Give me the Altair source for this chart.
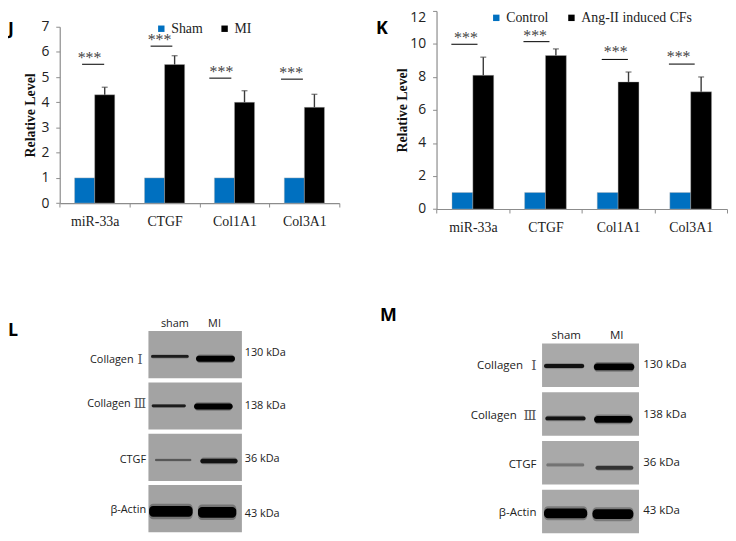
import altair as alt
import pandas as pd

categories = ["miR-33a", "CTGF", "Col1A1", "Col3A1"]

j_groups = ["Sham", "MI"]
j_sham = [1, 1, 1, 1]
j_mi = [4.3, 5.5, 4.0, 3.8]
j_top = [4.6, 5.85, 4.46, 4.32]
j_line_from = [0.32, 1.30, 2.14, 3.166]
j_line_to = [0.636, 1.611, 2.455, 3.479]
j_line_y = [5.51, 6.23, 4.96, 4.92]
j_star_x = [0.427, 1.428, 2.314, 3.312]
j_star_y = [5.74, 6.46, 5.22, 5.17]

k_groups = ["Control", "Ang-II induced CFs"]
k_ctrl = [1, 1, 1, 1]
k_ang = [8.1, 9.3, 7.7, 7.1]
k_top = [9.2, 9.7, 8.3, 8.0]
k_line_from = [0.204, 1.197, 2.275, 3.20]
k_line_to = [0.564, 1.555, 2.635, 3.555]
k_line_y = [9.98, 10.14, 9.06, 8.78]
k_star_x = [0.405, 1.358, 2.467, 3.334]
k_star_y = [10.36, 10.48, 9.52, 9.2]

blot_rows = [0, 1, 2, 3]
kda = ["130 kDa", "138 kDa", "36 kDa", "43 kDa"]
lanes = ["sham", "MI"]
numerals = ["Ⅰ", "Ⅲ"]

l_names = ["Collagen", "Collagen", "CTGF", "β-Actin"]
l_name_x = [-0.159, -0.19, -0.025, -0.025]
l_name_y = [0.56, 1.43, 2.51, 3.48]
l_num_x = [-0.063, -0.024]
l_num_y = [0.56, 1.43]
l_kda_x = [1.03, 1.03, 1.03, 1.03]
l_kda_y = [0.43, 1.46, 2.49, 3.56]
l_lane_x = [0.283, 0.707]
l_lane_y = [-0.142, -0.142]
l_band_from = [0.028, 0.509, 0.035, 0.488, 0.07, 0.555, 0.007, 0.53]
l_band_to = [0.431, 0.926, 0.40, 0.901, 0.459, 0.954, 0.473, 0.94]
l_band_mid = [0.494, 0.539, 1.457, 1.47, 2.51, 2.53, 3.513, 3.53]
l_band_thick = [0.055, 0.115, 0.05, 0.115, 0.04, 0.09, 0.21, 0.21]
l_band_dark = [0.85, 1.0, 0.85, 1.0, 0.45, 0.92, 1.0, 1.0]

m_names = ["Collagen", "Collagen", "CTGF", "β-Actin"]
m_name_x = [-0.197, -0.262, -0.058, -0.058]
m_name_y = [0.455, 1.48, 2.50, 3.48]
m_num_x = [-0.058, -0.058]
m_num_y = [0.455, 1.48]
m_kda_x = [1.043, 1.043, 1.043, 1.043]
m_kda_y = [0.44, 1.47, 2.455, 3.44]
m_lane_x = [0.249, 0.77]
m_lane_y = [-0.15, -0.15]
m_band_from = [0.02, 0.534, 0.034, 0.537, 0.044, 0.551, 0.02, 0.52]
m_band_to = [0.435, 0.952, 0.449, 0.935, 0.435, 0.942, 0.466, 0.942]
m_band_mid = [0.46, 0.48, 1.535, 1.556, 2.489, 2.55, 3.482, 3.5]
m_band_thick = [0.08, 0.14, 0.08, 0.14, 0.06, 0.08, 0.2, 0.2]
m_band_dark = [0.92, 1.0, 0.92, 1.0, 0.3, 0.7, 1.0, 1.0]

SERIF = "Liberation Serif"
SANS = "Open Sans"
AXIS_GRAY = "#8c8c8c"


def bar_panel(groups, low, high, top, xr, yr, ydom, ytick, legend_x, legend_y, col_pad, ytitle_pad, base):
    rows = []
    for i, c in enumerate(categories):
        rows.append({"cat": c, "group": groups[0], "v": low[i]})
        rows.append({"cat": c, "group": groups[1], "v": high[i], "top": top[i]})
    df = pd.DataFrame(rows)
    xs = alt.Scale(domain=categories, range=xr, paddingInner=0, paddingOuter=0)
    ys = alt.Scale(domain=ydom, range=yr, nice=False, zero=True)
    off = alt.Scale(domain=groups, paddingInner=0, paddingOuter=0.74)
    x = alt.X("cat:N", scale=xs, axis=alt.Axis(
        title=None, orient="bottom", offset=-(533 - yr[0]), labelAngle=0, tickBand="extent",
        labelFont=SERIF, labelFontSize=14, labelColor="#222222", labelPadding=8, tickSize=4,
        tickColor=AXIS_GRAY, domainColor=AXIS_GRAY, domainWidth=1.2, ticks=True, grid=False))
    yaxis = alt.Axis(
        title="Relative Level", orient="left", offset=-xr[0], values=ytick, tickSize=4,
        labelFont=SANS, labelFontSize=14, labelColor="#222222", labelPadding=7,
        labelBaseline=base,
        tickColor=AXIS_GRAY, domainColor=AXIS_GRAY, domainWidth=1.2, grid=False,
        titleFont=SERIF, titleFontSize=14, titleFontWeight="bold", titleColor="#111111",
        titlePadding=ytitle_pad)
    y = alt.Y("v:Q", scale=ys, axis=yaxis)
    xo = alt.XOffset("group:N", scale=off, sort=groups)
    bars = alt.Chart(df).mark_bar(stroke="#b5b5b5", strokeWidth=0.4).encode(
        x=x, y=y, xOffset=xo,
        color=alt.Color("group:N", sort=groups, scale=alt.Scale(domain=groups, range=["#0070C0", "#000000"]),
                        legend=alt.Legend(title=None, orient="none", legendX=legend_x, legendY=legend_y,
                                          direction="horizontal", columns=2, symbolType="square", symbolSize=42,
                                          symbolStrokeWidth=0, labelFont=SERIF, labelFontSize=14,
                                          labelColor="#222222", labelOffset=3, columnPadding=col_pad,
                                          padding=0)))
    hi = df[df["top"].notna()]
    err = alt.Chart(hi).mark_rule(color="#3a3a3a", strokeWidth=1.4).encode(
        x=x, xOffset=xo, y=y, y2="top:Q")
    cap = alt.Chart(hi).mark_tick(color="#3a3a3a", size=6, thickness=1.2, orient="horizontal").encode(
        x=x, xOffset=xo, y=alt.Y("top:Q", scale=ys, axis=yaxis))
    return alt.layer(bars, err, cap)


def sig_panel(line_from, line_to, line_y, star_x, star_y, letter, letter_x, letter_y, xr, yr, ydom):
    xs = alt.Scale(domain=[0, 4], range=xr, nice=False, zero=False)
    ys = alt.Scale(domain=ydom, range=yr, nice=False, zero=False)
    d = pd.DataFrame({"a": line_from, "b": line_to, "y": line_y, "sx": star_x, "sy": star_y, "t": ["***"] * 4})
    rule = alt.Chart(d).mark_rule(color="#111111", strokeWidth=1.1).encode(
        x=alt.X("a:Q", scale=xs, axis=None), x2="b:Q", y=alt.Y("y:Q", scale=ys, axis=None))
    star = alt.Chart(d).mark_text(font=SERIF, fontSize=16, color="#444444", baseline="middle", align="center").encode(
        x=alt.X("sx:Q", scale=xs, axis=None), y=alt.Y("sy:Q", scale=ys, axis=None), text="t:N")
    let = alt.Chart(pd.DataFrame({"x": [letter_x], "y": [letter_y], "t": [letter]})).mark_text(
        font=SANS, fontSize=18, fontWeight="bold", color="#000000", align="left", baseline="middle").encode(
        x=alt.X("x:Q", scale=xs, axis=None), y=alt.Y("y:Q", scale=ys, axis=None), text="t:N")
    return alt.layer(rule, star, let)


def blot_panel(names, name_x, name_y, num_x, num_y, kx, ky, lane_x, lane_y, bf, bt, bm, bh, bd, panel_h, xr, yr, size,
               letter, letter_x, letter_y, panel_dark):
    xs = alt.Scale(domain=[0, 1], range=xr, nice=False, zero=False)
    ys = alt.Scale(domain=[0, 4], range=yr, nice=False, zero=False)
    gray = alt.Scale(domain=[0, 1], range=[panel_dark, "#000000"])
    X = lambda f: alt.X(f, scale=xs, axis=None)
    Y = lambda f: alt.Y(f, scale=ys, axis=None)
    panels = pd.DataFrame({"row": blot_rows, "a": [0] * 4, "b": [1] * 4})
    panel = alt.Chart(panels).transform_calculate(end=f"datum.row+{panel_h}").mark_rect(color=panel_dark).encode(
        x=X("a:Q"), x2="b:Q", y=Y("row:Q"), y2="end:Q")
    bands = pd.DataFrame({"a": bf, "b": bt, "m": bm, "h": bh, "dark": bd})
    glow = alt.Chart(bands).transform_calculate(y1="datum.m-datum.h*0.72", y2="datum.m+datum.h*0.72").mark_rect(
        cornerRadius=4, opacity=0.28).encode(
        x=X("a:Q"), x2="b:Q", y=Y("y1:Q"), y2="y2:Q",
        color=alt.Color("dark:Q", scale=gray, legend=None))
    core = alt.Chart(bands).transform_calculate(y1="datum.m-datum.h*0.5", y2="datum.m+datum.h*0.5").mark_rect(
        cornerRadius=4).encode(
        x=X("a:Q"), x2="b:Q", y=Y("y1:Q"), y2="y2:Q",
        color=alt.Color("dark:Q", scale=gray, legend=None))
    def txt(xv, yv, tv, align, font=SANS, s=size, color="#222222"):
        d = pd.DataFrame({"x": xv, "y": yv, "t": tv})
        return alt.Chart(d).mark_text(font=font, fontSize=s, color=color, align=align, baseline="middle").encode(
            x=X("x:Q"), y=Y("y:Q"), text="t:N")
    let = alt.Chart(pd.DataFrame({"x": [letter_x], "y": [letter_y], "t": [letter]})).mark_text(
        font=SANS, fontSize=18, fontWeight="bold", color="#000000", align="left", baseline="middle").encode(
        x=X("x:Q"), y=Y("y:Q"), text="t:N")
    return alt.layer(panel, glow, core,
                     txt(name_x, name_y, names, "right"),
                     txt(num_x, num_y, numerals, "right", font="DejaVu Serif", s=size + 2, color="#555555"),
                     txt(kx, ky, kda, "left"),
                     txt(lane_x, lane_y, lanes, "center"),
                     let)


J_X, J_Y = [52.3, 335.0], [194.3, 16.0]
K_X, K_Y = [433.3, 727.0], [200.3, 0.0]
L_X, L_Y = [142.0, 236.5], [323.7, 531.3]
M_X, M_Y = [540.0, 638.0], [336.3, 533.5]

base_mid = "middle"
base_k = alt.expr("datum.value === 12 ? 'top' : 'middle'")

chart = alt.layer(
    bar_panel(j_groups, j_sham, j_mi, j_top, J_X, J_Y, [0, 7], list(range(8)), 148, 11, 15, 4, base_mid),
    sig_panel(j_line_from, j_line_to, j_line_y, j_star_x, j_star_y, "J", -0.74, 6.88, J_X, J_Y, [0, 7]),
    bar_panel(k_groups, k_ctrl, k_ang, k_top, K_X, K_Y, [0, 12], [0, 2, 4, 6, 8, 10, 12], 486.7, 0, 16, 0, base_k),
    sig_panel(k_line_from, k_line_to, k_line_y, k_star_x, k_star_y, "K", -0.835, 10.92, K_X, K_Y, [0, 12]),
    blot_panel(l_names, l_name_x, l_name_y, l_num_x, l_num_y, l_kda_x, l_kda_y, l_lane_x, l_lane_y,
               l_band_from, l_band_to, l_band_mid, l_band_thick, l_band_dark, 0.92, L_X, L_Y, 11,
               "L", -1.503, 0.006, "#a3a3a3"),
    blot_panel(m_names, m_name_x, m_name_y, m_num_x, m_num_y, m_kda_x, m_kda_y, m_lane_x, m_lane_y,
               m_band_from, m_band_to, m_band_mid, m_band_thick, m_band_dark, 0.89, M_X, M_Y, 11.6,
               "M", -1.673, -0.554, "#a9a9a9"),
).resolve_scale(x="independent", y="independent", color="independent", xOffset="independent").properties(
    width=728, height=533, padding=0, autosize=alt.AutoSizeParams(type="none"), background="white"
).configure_view(stroke=None)

chart.save("out.html", embed_options={"renderer": "svg", "actions": False})
